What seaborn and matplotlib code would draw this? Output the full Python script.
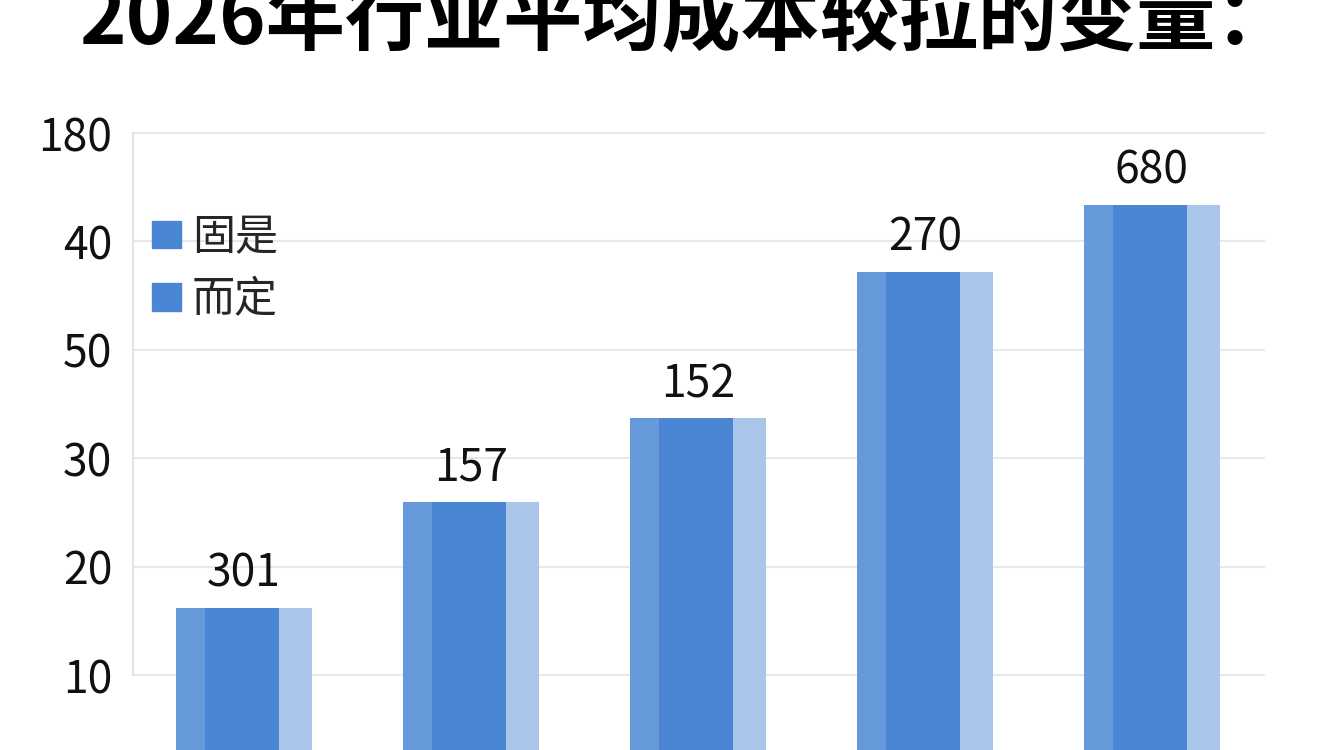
import matplotlib
matplotlib.use("Agg")
import matplotlib.pyplot as plt
from matplotlib.patches import Patch
import seaborn as sns
import pandas as pd
import numpy as np

# chart data
title = "2026年行业平均成本较拉的变量："
categories = ["1", "2", "3", "4", "5"]
bar_heights = [16.2, 26.0, 33.7, 47.2, 53.4]
value_labels = ["301", "157", "152", "270", "680"]
y_ticks = [10, 20, 30, 40, 50, 60]
y_tick_labels = ["10", "20", "30", "50", "40", "180"]
legend_names = ["固是", "而定"]

sns.set_theme(style="white")
plt.rcParams['font.family'] = ['Noto Sans CJK SC', 'DejaVu Sans']

fig = plt.figure(figsize=(13.44, 7.5), dpi=100)
fig.patch.set_facecolor("white")
ax = fig.add_axes([133 / 1344, 0, 1132 / 1344, 0.827])

df = pd.DataFrame({"cat": categories, "h": bar_heights})
sns.barplot(df, x="cat", y="h", color="#a9c5ea", width=0.6, saturation=1,
            linewidth=0, ax=ax)
bars = ax.containers[0]

# darker strips on each bar
xs = np.arange(len(categories))
ax.bar(xs - 0.3, bar_heights, width=0.128, align="edge", color="#6699da", lw=0)
ax.bar(xs - 0.172, bar_heights, width=0.326, align="edge", color="#4a86d4", lw=0)

ax.bar_label(bars, labels=value_labels, padding=8, fontsize=32, color="#111111")

ax.set_xlim(-0.49, 4.5)
ax.set_ylim(3.1, 60.3)
ax.set_yticks(y_ticks, y_tick_labels)
ax.set_xticks([])
ax.set_xlabel("")
ax.set_ylabel("")
ax.tick_params(axis="y", length=0, pad=15, labelsize=32, labelcolor="#111111")
ax.set_axisbelow(True)
ax.yaxis.grid(True, color="#e8e8e8", lw=1.5)
for side in ["top", "right", "bottom"]:
    ax.spines[side].set_visible(False)
ax.spines["left"].set_color("#e3e3e3")
ax.spines["left"].set_linewidth(1.5)
ax.spines["left"].set_bounds(10, 60)
ax.set_facecolor("white")

handles = [Patch(color="#4a86d4", label=n) for n in legend_names]
ax.legend(handles=handles, loc="upper left", bbox_to_anchor=(152 / 1344, 1 - 216 / 750),
          bbox_transform=fig.transFigure, frameon=False, fontsize=31,
          handlelength=0.68, handleheight=0.6, handletextpad=0.25,
          labelspacing=0.42, borderaxespad=0, borderpad=0)

fig.text(0.511, 1 - 20 / 750, title, ha="center", va="center",
         fontsize=57, fontweight="heavy", color="black")

fig.savefig("out.png", dpi=100)
